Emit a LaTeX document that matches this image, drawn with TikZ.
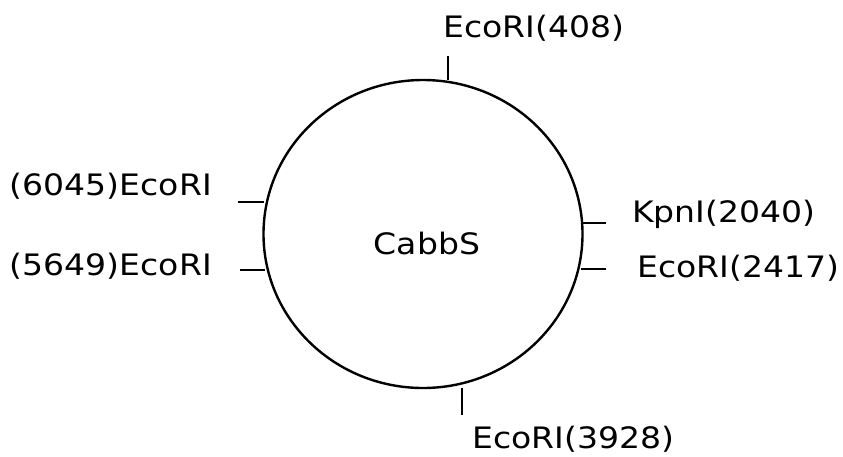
\documentclass[tikz,border=0pt]{standalone}
\usepackage{fontspec}
\setmainfont[FakeStretch=1.12]{DejaVu Sans}
\usetikzlibrary{positioning}

\begin{document}
\begin{tikzpicture}[x=1pt, y=-1pt,
    site/.style={font=\fontsize{29.5}{34}\selectfont, inner sep=0pt},
    tick/.style={line width=2pt}]
        \useasboundingbox (0,0) rectangle (843,456);

        % the plasmid ring
        \draw[line width=2.4pt] (423,234) ellipse [x radius=159.5, y radius=154];
        \node[site] (plasmid) at (427,243) {CabbS};

        % sites on the ring
        \coordinate (r408) at (448,80);
        \coordinate (o408) at (448,56);
        \coordinate (r3928) at (462,388);
        \coordinate (o3928) at (462,415);
        \coordinate (r6045) at (264,202);
        \coordinate (o6045) at (238,202);
        \coordinate (r5649) at (265,270);
        \coordinate (o5649) at (240,270);
        \coordinate (r2040) at (582,223);
        \coordinate (o2040) at (606,223);
        \coordinate (r2417) at (581,269);
        \coordinate (o2417) at (606,269);

        \draw[tick] (r408) -- (o408);
        \draw[tick] (r3928) -- (o3928);
        \draw[tick] (r6045) -- (o6045);
        \draw[tick] (r5649) -- (o5649);
        \draw[tick] (r2040) -- (o2040);
        \draw[tick] (r2417) -- (o2417);

        \node[site, anchor=west] (e408) at (443,28) {EcoRI(408)};
        \node[site, anchor=west] (e3928) at (472,439) {EcoRI(3928)};
        \node[site, anchor=east] (e6045) at (212,186) {(6045)EcoRI};
        \node[site, anchor=east] (e5649) at (212,266) {(5649)EcoRI};
        \node[site, anchor=west] (k2040) at (632,214) {KpnI(2040)};
        \node[site, anchor=west] (e2417) at (637,268) {EcoRI(2417)};
    \end{tikzpicture}
\end{document}
